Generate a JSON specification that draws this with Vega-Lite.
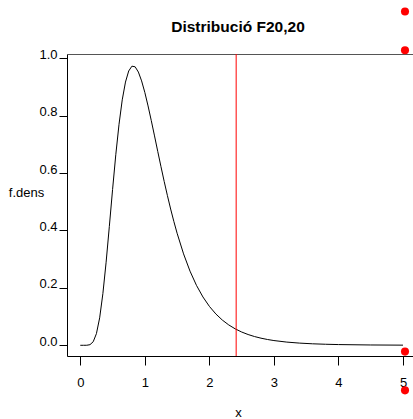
{
  "$schema": "https://vega.github.io/schema/vega-lite/v6.json",
  "autosize": {"type": "none"},
  "padding": {"left": 67, "top": 54, "right": 0, "bottom": 63},
  "width": 346,
  "height": 302,
  "background": "white",
  "config": {
    "view": {"stroke": null},
    "font": "Liberation Sans",
    "axis": {"grid": false, "labelFont": "Liberation Sans", "titleFont": "Liberation Sans", "labelColor": "black", "titleColor": "black", "domainColor": "black", "tickColor": "black", "labelFontSize": 13, "titleFontSize": 13, "titleFontWeight": "normal", "labelFlush": false, "labelOverlap": false, "labelBound": false}
  },
  "title": {"text": "Distribució F20,20", "font": "Liberation Sans", "fontSize": 15.5, "fontWeight": "bold", "color": "black", "anchor": "middle", "frame": "group", "dx": -2, "baseline": "alphabetic", "offset": -40},
  "datasets": {
    "curve": [
      {"x": 0, "y": 0}, {"x": 0.05, "y": 0.0000007}, {"x": 0.1, "y": 0.000137}, {"x": 0.15, "y": 0.00217},
      {"x": 0.2, "y": 0.01234}, {"x": 0.25, "y": 0.04062}, {"x": 0.3, "y": 0.09567}, {"x": 0.35, "y": 0.1801},
      {"x": 0.4, "y": 0.28942}, {"x": 0.45, "y": 0.41412}, {"x": 0.5, "y": 0.54261}, {"x": 0.55, "y": 0.66405},
      {"x": 0.6, "y": 0.77009}, {"x": 0.65, "y": 0.85528}, {"x": 0.7, "y": 0.91721}, {"x": 0.75, "y": 0.95578},
      {"x": 0.8, "y": 0.97259}, {"x": 0.85, "y": 0.9703}, {"x": 0.9, "y": 0.9521}, {"x": 0.95, "y": 0.92127},
      {"x": 1.0, "y": 0.88099}, {"x": 1.05, "y": 0.83405}, {"x": 1.1, "y": 0.7829}, {"x": 1.15, "y": 0.72957},
      {"x": 1.2, "y": 0.67568}, {"x": 1.25, "y": 0.62245}, {"x": 1.3, "y": 0.57082}, {"x": 1.35, "y": 0.52144},
      {"x": 1.4, "y": 0.47478}, {"x": 1.45, "y": 0.43109}, {"x": 1.5, "y": 0.39047}, {"x": 1.6, "y": 0.31855},
      {"x": 1.7, "y": 0.25844}, {"x": 1.8, "y": 0.20888}, {"x": 1.9, "y": 0.16842}, {"x": 2.0, "y": 0.13565},
      {"x": 2.1, "y": 0.10923}, {"x": 2.2, "y": 0.08799}, {"x": 2.3, "y": 0.07094}, {"x": 2.4, "y": 0.05727},
      {"x": 2.5, "y": 0.0463}, {"x": 2.6, "y": 0.03752}, {"x": 2.7, "y": 0.03046}, {"x": 2.8, "y": 0.02479},
      {"x": 2.9, "y": 0.02022}, {"x": 3.0, "y": 0.01654}, {"x": 3.2, "y": 0.01114}, {"x": 3.4, "y": 0.00758},
      {"x": 3.6, "y": 0.00521}, {"x": 3.8, "y": 0.00362}, {"x": 4.0, "y": 0.00254}, {"x": 4.5, "y": 0.00109},
      {"x": 5.0, "y": 0.00049}
    ],
    "cut": [{"x": 2.415}],
    "dots": [{"x": 5.031, "y": 1.163}, {"x": 5.031, "y": 1.028}, {"x": 5.031, "y": -0.022}, {"x": 5.031, "y": -0.157}]
  },
  "resolve": {"axis": {"x": "independent", "y": "independent"}},
  "layer": [
    {
      "data": {"name": "curve"},
      "mark": {"type": "line", "color": "black", "strokeWidth": 1, "clip": true},
      "encoding": {
        "x": {"field": "x", "type": "quantitative", "scale": {"domain": [-0.206, 5.155], "nice": false, "zero": false},
          "axis": {"orient": "bottom", "values": [0, 1, 2, 3, 4, 5], "format": "d", "tickSize": 9, "labelPadding": 11, "labelDx": -3.5, "labelBaseline": "top",
            "title": "x", "titleX": 171, "titleY": 60.5, "titleAlign": "center", "titleBaseline": "alphabetic", "titleAnchor": null}},
        "y": {"field": "y", "type": "quantitative", "scale": {"domain": [-0.0373, 1.015], "nice": false, "zero": false},
          "axis": {"orient": "left", "values": [0, 0.2, 0.4, 0.6, 0.8, 1.0], "format": ".1f", "tickSize": 8, "labelPadding": 2, "labelBaseline": "alphabetic",
            "title": "f.dens", "titleAngle": 0, "titleX": -41, "titleY": 142, "titleAlign": "center", "titleBaseline": "alphabetic"}}
      }
    },
    {
      "data": {"name": "cut"},
      "mark": {"type": "rule", "color": "#ff0000", "strokeWidth": 1},
      "encoding": {
        "x": {"field": "x", "type": "quantitative",
          "axis": {"orient": "top", "labels": false, "ticks": false, "title": null, "domainColor": "#555555"}}
      }
    },
    {
      "data": {"name": "dots"},
      "mark": {"type": "point", "filled": true, "color": "#ff0000", "opacity": 1, "size": 65, "clip": false},
      "encoding": {
        "x": {"field": "x", "type": "quantitative", "axis": null},
        "y": {"field": "y", "type": "quantitative", "axis": null}
      }
    }
  ]
}
